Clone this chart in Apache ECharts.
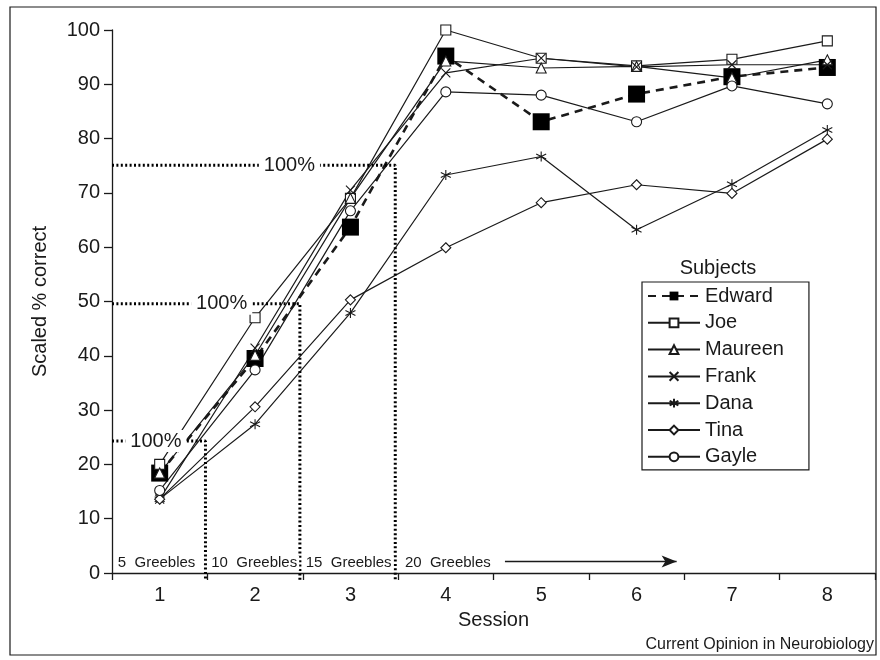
<!DOCTYPE html>
<html>
<head>
<meta charset="utf-8">
<script src="https://cdn.jsdelivr.net/npm/echarts@6/dist/echarts.min.js"></script>
<style>
  html, body { margin: 0; padding: 0; background: #fff; }
  #chart { width: 880px; height: 660px; }
</style>
</head>
<body>
<div id="chart"></div>
<script>
const font = "'Liberation Sans', Arial, sans-serif";
const ink = "#1a1a1a";

const sessions = ["1", "2", "3", "4", "5", "6", "7", "8"];

// scaled % correct per subject, sessions 1..8
const edward  = [18.4, 39.5, 63.7, 95.2, 83.1, 88.2, 91.4, 93.1];
const joe     = [20.0, 47.0, 69.0, 100, 94.8, 93.4, 94.6, 98.0];
const maureen = [18.4, 40.1, 69.0, 94.3, 93.0, 93.3, 91.2, 94.5];
const frank   = [13.6, 41.4, 70.5, 92.1, 94.8, 93.2, 93.6, 93.6];
const dana    = [13.6, 27.4, 47.9, 73.3, 76.7, 63.2, 71.6, 81.6];
const tina    = [13.6, 30.6, 50.3, 59.9, 68.2, 71.5, 69.9, 79.9];
const gayle   = [15.2, 37.4, 66.7, 88.6, 88.0, 83.1, 89.7, 86.4];

// training stages: criterion level reached and the session boundary where the set grew
const stageLevels = [24.3, 49.6, 75.1];
const stageEnds = [1.48, 2.47, 3.47];
const stageLabelX = [0.96, 1.65, 2.36];
const greebleLabels = ["5  Greebles", "10  Greebles", "15  Greebles", "20  Greebles"];
const greebleX = [0.54, 1.52, 2.51, 3.55];
const arrowFrom = 4.62, arrowTo = 6.42;

const crossPath = "path://M0,0L10,10M0,10L10,0";
const starPath = "path://M5,0L5,10M0.7,2.5L9.3,7.5M0.7,7.5L9.3,2.5";

function subject(name, data, symbol, size, opts) {
  return Object.assign({
    name: name,
    type: "line",
    data: data,
    symbol: symbol,
    symbolSize: size,
    clip: false,
    lineStyle: { color: ink, width: 1.2 },
    itemStyle: { color: "#fff", borderColor: ink, borderWidth: 1.1 }
  }, opts || {});
}

const series = [
  subject("Edward", edward, "rect", 17, {
    lineStyle: { color: ink, width: 2.6, type: [8, 6] },
    itemStyle: { color: "#000", borderColor: "#000", borderWidth: 0 }
  }),
  subject("Joe", joe, "rect", 10),
  subject("Maureen", maureen, "triangle", 10),
  subject("Frank", frank, crossPath, 9),
  subject("Dana", dana, starPath, 10),
  subject("Tina", tina, "diamond", 10),
  subject("Gayle", gayle, "circle", 10)
];

// dotted stage lines
stageLevels.forEach(function (lv, i) {
  series.push({
    type: "line",
    xAxisIndex: 1,
    data: [[0.5, lv], [stageEnds[i], lv], [stageEnds[i], -1.3]],
    symbol: "none",
    clip: false,
    silent: true,
    z: 3,
    lineStyle: { color: "#000", width: 3, type: [2, 2.4] }
  });
});

// "100%" labels on the stage lines
series.push({
  type: "scatter",
  xAxisIndex: 1,
  symbolSize: 0,
  silent: true,
  z: 4,
  itemStyle: { opacity: 1 },
  data: stageLevels.map(function (lv, i) { return { name: "100%", value: [stageLabelX[i], lv] }; }),
  label: {
    show: true, position: "inside", formatter: "{b}",
    fontFamily: font, fontSize: 20, color: ink,
    backgroundColor: "#fff", padding: [1, 5]
  }
});

// greeble set sizes along the bottom, plus arrow
series.push({
  type: "scatter",
  xAxisIndex: 1,
  symbolSize: 0,
  silent: true,
  z: 4,
  itemStyle: { opacity: 1 },
  data: greebleLabels.map(function (t, i) { return { name: t, value: [greebleX[i], 1.8] }; }),
  label: {
    show: true, position: "right", distance: 0, formatter: "{b}",
    fontFamily: font, fontSize: 15, color: ink,
    backgroundColor: "#fff", padding: [0, 2]
  },
  markLine: {
    silent: true,
    symbol: ["none", "arrow"],
    symbolSize: [9, 15],
    label: { show: false },
    lineStyle: { color: ink, width: 1.3, type: "solid", opacity: 1 },
    data: [[{ coord: [arrowFrom, 2.1] }, { coord: [arrowTo, 2.1] }]]
  }
});

const chart = echarts.init(document.getElementById("chart"), null, { renderer: "canvas" });
chart.setOption({
  backgroundColor: "#fff",
  animation: false,
  textStyle: { fontFamily: font, color: ink },
  grid: { left: 112, right: 5, top: 30, bottom: 87, containLabel: false },
  legend: {
    data: ["Edward", "Joe", "Maureen", "Frank", "Dana", "Tina", "Gayle"],
    orient: "vertical",
    left: 642,
    top: 282,
    itemWidth: 52,
    itemHeight: 11,
    itemGap: 6.8,
    padding: [4, 25, 3, 5],
    borderColor: ink,
    borderWidth: 1.2,
    textStyle: { fontFamily: font, fontSize: 20, color: ink, lineHeight: 20 }
  },
  xAxis: [{
    type: "category",
    data: sessions,
    boundaryGap: true,
    name: "Session",
    nameLocation: "middle",
    nameGap: 37,
    nameTextStyle: { fontFamily: font, fontSize: 20, color: ink },
    axisLine: { lineStyle: { color: ink, width: 1.3 } },
    axisTick: { show: true, length: 7, interval: 0, lineStyle: { color: ink, width: 1.3 } },
    axisLabel: { fontFamily: font, fontSize: 20, color: ink, margin: 12 },
    splitLine: { show: false }
  }, {
    type: "value",
    min: 0.5,
    max: 8.5,
    show: false
  }],
  yAxis: {
    type: "value",
    min: 0,
    max: 100,
    interval: 10,
    name: "Scaled % correct",
    nameLocation: "middle",
    nameGap: 62,
    nameRotate: 90,
    nameTextStyle: { fontFamily: font, fontSize: 20, color: ink },
    axisLine: { show: true, lineStyle: { color: ink, width: 1.3 } },
    axisTick: { show: true, length: 8, lineStyle: { color: ink, width: 1.3 } },
    axisLabel: { fontFamily: font, fontSize: 20, color: ink, margin: 12 },
    splitLine: { show: false }
  },
  graphic: [
    {
      type: "rect",
      shape: { x: 10, y: 7, width: 866, height: 648 },
      style: { fill: "none", stroke: ink, lineWidth: 1.2 },
      silent: true
    },
    {
      type: "text",
      x: 718, y: 268,
      style: { text: "Subjects", fontFamily: font, fontSize: 20, fill: ink, align: "center", verticalAlign: "middle" }
    },
    {
      type: "text",
      x: 874, y: 645,
      style: { text: "Current Opinion in Neurobiology", fontFamily: font, fontSize: 16, fill: ink, align: "right", verticalAlign: "middle" }
    }
  ],
  series: series
});
</script>
</body>
</html>
